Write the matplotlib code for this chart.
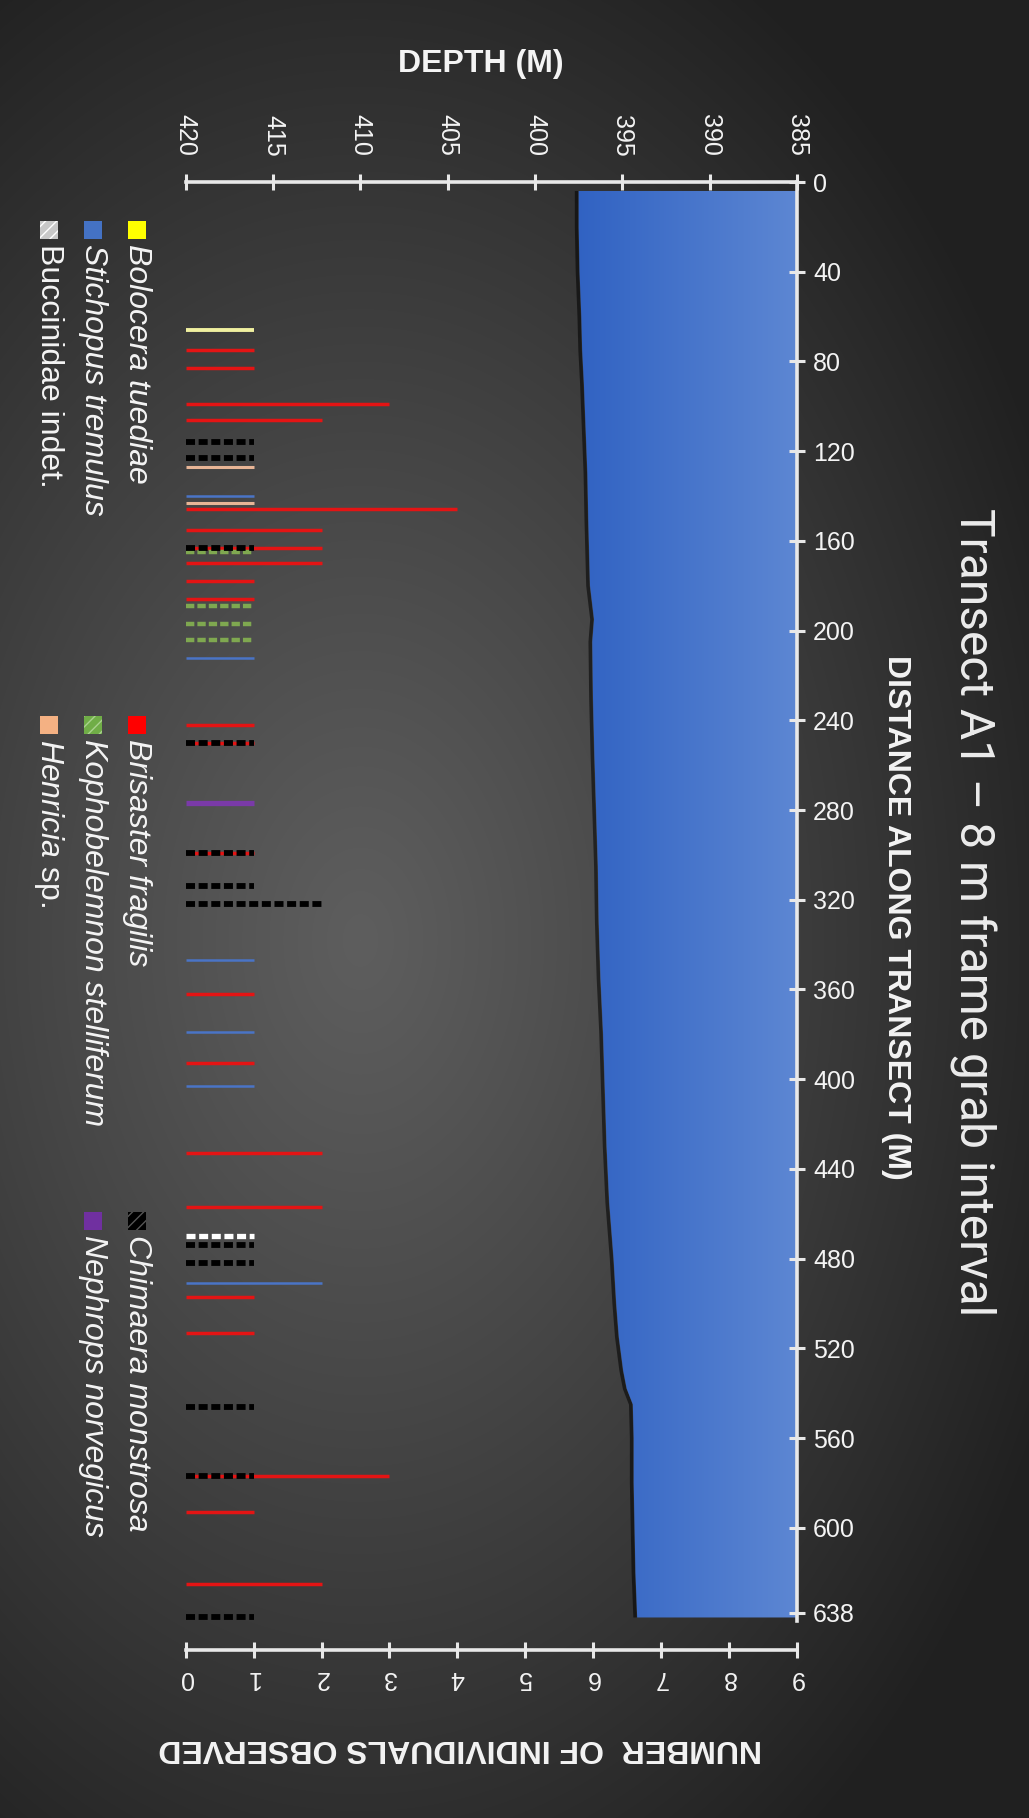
import numpy as np
import matplotlib
matplotlib.use("Agg")
import matplotlib.pyplot as plt
from matplotlib import font_manager
from matplotlib.patches import Polygon, Rectangle
from matplotlib.colors import LinearSegmentedColormap

# ---------------- data ----------------
title = "Transect A1 \u2013 8 m frame grab interval"

depth_ticks = [420, 415, 410, 405, 400, 395, 390, 385]
distance_ticks = [0, 40, 80, 120, 160, 200, 240, 280, 320, 360, 400,
                  440, 480, 520, 560, 600, 638]
count_ticks = [0, 1, 2, 3, 4, 5, 6, 7, 8, 9]

# seafloor profile along the transect (distance m, depth m)
profile_distance = [4, 20, 40, 60, 75, 90, 110, 130, 150, 180, 195, 205,
                    230, 255, 280, 305, 330, 355, 380, 405, 430, 455,
                    480, 500, 515, 530, 538, 545, 560, 580, 600, 620, 640]
profile_depth = [397.5, 397.5, 397.45, 397.35, 397.3, 397.2, 397.1, 397.0,
                 396.95, 396.85, 396.62, 396.72, 396.68, 396.6, 396.5,
                 396.4, 396.35, 396.25, 396.1, 396.0, 395.9, 395.75,
                 395.5, 395.35, 395.2, 394.95, 394.75, 394.4, 394.35,
                 394.35, 394.3, 394.25, 394.15]

# observations per species: distance along transect (m) and individuals
bolocera_dist = [66]
bolocera_n = [1]
brisaster_dist = [75, 83, 99, 106, 146, 155, 163, 170, 178, 186, 242, 250,
                  299, 362, 393, 433, 457, 497, 513, 577, 593, 625]
brisaster_n = [1, 1, 3, 2, 4, 2, 2, 2, 1, 1, 1, 1, 1, 1, 1, 2, 2, 1, 1, 3,
               1, 2]
chimaera_dist = [116, 123, 163, 250, 299, 314, 322, 474, 482, 546, 577, 640]
chimaera_n = [1, 1, 1, 1, 1, 1, 2, 1, 1, 1, 1, 1]
stichopus_dist = [140, 212, 347, 379, 403, 491]
stichopus_n = [1, 1, 1, 1, 1, 2]
kophobelemnon_dist = [165, 189, 197, 204]
kophobelemnon_n = [1, 1, 1, 1]
nephrops_dist = [277]
nephrops_n = [1]
henricia_dist = [127, 143]
henricia_n = [1, 1]
buccinidae_dist = [470]
buccinidae_n = [1]

# ---------------- style ----------------
available = {f.name for f in font_manager.fontManager.ttflist}
SANS = "Liberation Sans" if "Liberation Sans" in available else "DejaVu Sans"
TITLE_FONT = "Roboto" if "Roboto" in available else SANS
plt.rcParams["font.family"] = [SANS, "DejaVu Sans"]
plt.rcParams["lines.scale_dashes"] = False
plt.rcParams["mathtext.fontset"] = "custom"
plt.rcParams["mathtext.it"] = SANS + ":italic"
plt.rcParams["mathtext.rm"] = SANS

W, H = 1029, 1818
TXT = "#f4f4f4"
AXC = "#e8e8e8"


def fx(x):
    return x / W


def fy(y):
    return 1 - y / H


fig = plt.figure(figsize=(W / 100, H / 100), dpi=100)

# dark radial background
bg = fig.add_axes([0, 0, 1, 1], zorder=-10)
yy, xx = np.mgrid[0:H, 0:W]
r = np.sqrt(((xx - 360) / 760.0) ** 2 + ((yy - 940) / 1120.0) ** 2)
r = np.clip(r, 0, 1) ** 1.1
inner = np.array([0x5e, 0x5e, 0x5e]) / 255.0
outer = np.array([0x20, 0x20, 0x20]) / 255.0
bg.imshow(inner + (outer - inner) * r[..., None], extent=[0, 1, 0, 1],
          aspect="auto", origin="upper")
bg.axis("off")

# main axes: depth (top) vs distance (right)
ax = fig.add_axes([fx(185.7), fy(1650), fx(797) - fx(185.7), fy(182) - fy(1650)])
ax.set_facecolor("none")
YMAX = 654.5

# water column above the seafloor, blue gradient
verts = list(zip(profile_depth, profile_distance)) + \
    [(385, profile_distance[-1]), (385, profile_distance[0])]
water = Polygon(verts, closed=True, facecolor="none", edgecolor="none")
ax.add_patch(water)
ax.plot(np.array(profile_depth) + 0.12, profile_distance, color="black",
        alpha=0.55, lw=2.5, zorder=0.9, solid_capstyle="butt")
cmap = LinearSegmentedColormap.from_list("water", ["#2f61c2", "#5d87d3"])
im = ax.imshow(np.linspace(0, 1, 256)[None, :], cmap=cmap,
               extent=[398, 385, YMAX, 0], aspect="auto", zorder=1)
im.set_clip_path(water)

ax.set_xlim(420, 385)
ax.set_ylim(YMAX, 0)

for s in ["left", "bottom"]:
    ax.spines[s].set_visible(False)
for s in ["top", "right"]:
    ax.spines[s].set_color(AXC)
    ax.spines[s].set_linewidth(2.6)
    ax.spines[s].set_zorder(5)
ax.spines["right"].set_bounds(0, 641.5)

ax.xaxis.tick_top()
ax.set_xticks(depth_ticks)
ax.set_xticklabels([str(t) for t in depth_ticks], rotation=270)
ax.tick_params(axis="x", direction="inout", length=11, width=2.2, color=AXC,
               labelcolor=TXT, labelsize=18, pad=13)
ax.yaxis.tick_right()
ax.set_yticks(distance_ticks)
ax.set_yticklabels([str(t) for t in distance_ticks])
ax.tick_params(axis="y", direction="inout", length=11, width=2.2, color=AXC,
               labelcolor=TXT, labelsize=18, pad=6)
for lbl in ax.get_yticklabels():
    lbl.set_horizontalalignment("left")

# counts share the distance axis
ax2 = ax.twiny()
ax2.set_xlim(0, 9)
ax2.set_ylim(YMAX, 0)
ax2.set_facecolor("none")
for s in ["left", "right", "top"]:
    ax2.spines[s].set_visible(False)
ax2.spines["bottom"].set_visible(True)
ax2.spines["bottom"].set_color(AXC)
ax2.spines["bottom"].set_linewidth(2.6)
ax.xaxis.tick_top()
ax2.xaxis.tick_bottom()
ax2.set_xticks(count_ticks)
ax2.set_xticklabels([str(t) for t in count_ticks], rotation=180)
ax2.tick_params(axis="x", direction="inout", length=11, width=2.2, color=AXC,
                labelcolor=TXT, labelsize=18, pad=6)
ax2.tick_params(axis="y", left=False, right=False, labelleft=False,
                labelright=False)

dash_black = (0, (6.5, 2.6))
series = [
    (brisaster_dist, brisaster_n, "#e41414", 2.5, "solid", 3),
    (bolocera_dist, bolocera_n, "#f0f0a0", 2.8, "solid", 3),
    (stichopus_dist, stichopus_n, "#4a74c6", 1.8, "solid", 3),
    (henricia_dist, henricia_n, "#e8b596", 2.2, "solid", 3),
    (nephrops_dist, nephrops_n, "#7a3aa8", 3.8, "solid", 3),
    (kophobelemnon_dist, kophobelemnon_n, "#7fa850", 3.2, (0, (6.0, 2.2)), 4),
    (buccinidae_dist, buccinidae_n, "#ffffff", 3.8, dash_black, 4),
    (chimaera_dist, chimaera_n, "#000000", 4.2, dash_black, 5),
]
for dist, n, col, lw, ls, z in series:
    ax2.hlines(dist, 0, n, colors=col, linewidth=lw, linestyles=ls, zorder=z)

# titles and axis labels
fig.text(fx(973), fy(912), title, rotation=-90, ha="center", va="center",
         fontsize=34.5, color="#ececec", family=[TITLE_FONT, "DejaVu Sans"])
fig.text(fx(896), fy(917), "DISTANCE ALONG TRANSECT (M)", rotation=-90,
         ha="center", va="center", fontsize=23, color=TXT, fontweight="bold")
fig.text(fx(481), fy(64), "DEPTH (M)", ha="center", va="center",
         fontsize=23, color=TXT, fontweight="bold")
fig.text(fx(460), fy(1748), "NUMBER  OF INDIVIDUALS OBSERVED", rotation=180,
         ha="center", va="center", fontsize=23, color=TXT, fontweight="bold")

# legend, written down the left margin
legend_items = [
    # (column x, square top y, label, face, hatch, hatch colour)
    (137, 221, "Bolocera tuediae", "#ffff00", None, None),
    (93, 221, "Stichopus tremulus", "#4472c4", None, None),
    (49, 221, "Buccinidae indet.", "#c8c8c8", "///", "#ffffff"),
    (137, 716, "Brisaster fragilis", "#ff0000", None, None),
    (93, 716, "Kophobelemnon stelliferum", "#70ad47", "///", "#a9d18e"),
    (49, 716, "$\\mathit{Henricia}$ sp.", "#f4b183", None, None),
    (137, 1212, "Chimaera monstrosa", "#000000", "///", "#555555"),
    (93, 1212, "Nephrops norvegicus", "#7030a0", None, None),
]
sq = 18
for cx, top, label, face, hatch, hcol in legend_items:
    rect = Rectangle((fx(cx - sq / 2), fy(top + sq)), sq / W, sq / H,
                     transform=fig.transFigure, facecolor=face,
                     edgecolor=hcol if hcol else face, hatch=hatch,
                     linewidth=0)
    fig.patches.append(rect)
    style = "normal" if ("indet" in label or "mathit" in label) else "italic"
    fig.text(fx(cx), fy(top + sq + 5), label, rotation=-90, ha="center",
             va="top", fontsize=23, color=TXT, style=style)

fig.savefig("out.png", dpi=100, facecolor="#222222")
